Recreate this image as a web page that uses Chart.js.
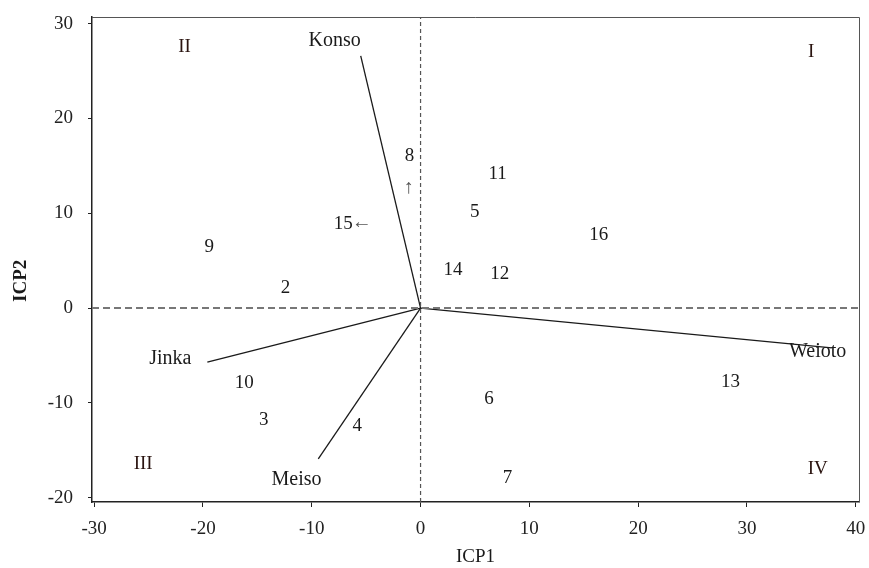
<!DOCTYPE html>
<html>
<head>
<meta charset="utf-8">
<script src="https://cdn.jsdelivr.net/npm/chart.js@4.4.0/dist/chart.umd.min.js"></script>
<style>
  html, body { margin: 0; padding: 0; background: #fff; }
  #wrap { width: 869px; height: 568px; }
</style>
</head>
<body>
<div id="wrap"><canvas id="biplot"></canvas></div>
<script>
// genotype scores on the first two interaction principal components
const genotypes = ['2', '3', '4', '5', '6', '7', '8', '9', '10', '11', '12', '13', '14', '15', '16'];
const genoICP1 = [-12.6, -14.6, -6.0, 4.8, 6.1, 7.8, -1.2, -19.6, -16.4, 6.9, 7.1, 28.3, 2.8, -7.3, 16.2];
const genoICP2 = [2.3, -11.6, -12.2, 10.3, -9.4, -17.7, 16.3, 6.7, -7.7, 14.3, 3.8, -7.6, 4.2, 9.1, 7.9];

// environment vectors drawn from the origin
const environments = ['Konso', 'Jinka', 'Meiso', 'Weioto'];
const envICP1 = [-5.5, -19.6, -9.4, 37.8];
const envICP2 = [26.6, -5.7, -15.9, -4.2];
const envLabelICP1 = [-7.9, -23.0, -11.4, 36.5];
const envLabelICP2 = [28.2, -5.3, -18.1, -4.6];

// quadrant numbering
const quadrants = ['I', 'II', 'III', 'IV'];
const quadICP1 = [35.9, -21.7, -25.5, 36.5];
const quadICP2 = [27.0, 27.5, -16.4, -17.0];

// pointer marks next to genotypes 8 and 15
const pointers = ['\u2191', '\u2190'];
const pointerICP1 = [-1.1, -5.4];
const pointerICP2 = [12.7, 9.0];

const xTicks = [-30, -20, -10, 0, 10, 20, 30, 40];
const yTicks = [-20, -10, 0, 10, 20, 30];
const xRange = [-30.2, 40.3];
const yRange = [-20.45, 30.7];

const SERIF = "'Liberation Serif', 'Times New Roman', serif";

const toPoints = (xs, ys) => xs.map((x, i) => ({ x: x, y: ys[i] }));

const textSet = (texts, xs, ys, color, size, shift) => ({
  label: 'text',
  data: toPoints(xs, ys),
  texts: texts,
  textColor: color,
  textSize: size || 19,
  textShift: shift || [0, 0],
  pointRadius: 0,
  showLine: false
});

const datasets = [
  {
    label: 'zero-h',
    data: [{ x: xRange[0], y: 0 }, { x: xRange[1], y: 0 }],
    showLine: true, borderColor: '#777', borderWidth: 2, borderDash: [7, 4], pointRadius: 0
  },
  {
    label: 'zero-v',
    data: [{ x: 0, y: yRange[0] }, { x: 0, y: yRange[1] }],
    showLine: true, borderColor: '#555', borderWidth: 1.2, borderDash: [4, 3], pointRadius: 0
  }
];

environments.forEach((env, i) => {
  datasets.push({
    label: env,
    data: [{ x: 0, y: 0 }, { x: envICP1[i], y: envICP2[i] }],
    showLine: true, borderColor: '#1a1a1a', borderWidth: 1.3, pointRadius: 0
  });
});

datasets.push(textSet(genotypes, genoICP1, genoICP2, '#1a1a1a', 19, [2, 2]));
datasets.push(textSet(environments, envLabelICP1, envLabelICP2, '#1a1a1a', 20));
datasets.push(textSet(quadrants, quadICP1, quadICP2, '#2a1410'));
datasets.push(textSet(pointers, pointerICP1, pointerICP2, '#555', 20));

// writes the text of each text dataset at its point
const textMarks = {
  id: 'textMarks',
  afterDatasetsDraw(chart) {
    const ctx = chart.ctx;
    ctx.save();
    ctx.textAlign = 'center';
    ctx.textBaseline = 'middle';
    chart.data.datasets.forEach((ds, di) => {
      if (!ds.texts) return;
      const meta = chart.getDatasetMeta(di);
      const [dx, dy] = ds.textShift;
      ctx.font = ds.textSize + 'px ' + SERIF;
      ctx.fillStyle = ds.textColor;
      meta.data.forEach((pt, j) => ctx.fillText(ds.texts[j], pt.x + dx, pt.y + dy));
    });
    ctx.restore();
  }
};

// thin grey top and right edges of the frame
const frame = {
  id: 'frame',
  beforeDatasetsDraw(chart) {
    const { left, right, top, bottom } = chart.chartArea;
    const ctx = chart.ctx;
    ctx.save();
    ctx.strokeStyle = '#555';
    ctx.lineWidth = 1;
    ctx.beginPath();
    ctx.moveTo(left, top + 0.5);
    ctx.lineTo(right + 0.5, top + 0.5);
    ctx.lineTo(right + 0.5, bottom);
    ctx.stroke();
    ctx.restore();
  }
};

new Chart(document.getElementById('biplot'), {
  type: 'scatter',
  data: { datasets: datasets },
  plugins: [frame, textMarks],
  options: {
    responsive: true,
    maintainAspectRatio: false,
    animation: false,
    layout: { autoPadding: false, padding: { top: 17, right: 10, left: 0, bottom: 0 } },
    plugins: {
      legend: { display: false },
      tooltip: { enabled: false }
    },
    scales: {
      x: {
        type: 'linear',
        min: xRange[0],
        max: xRange[1],
        afterBuildTicks: s => { s.ticks = xTicks.map(v => ({ value: v })); },
        afterFit: s => { s.height = 66; s.paddingLeft = 0; s.paddingRight = 0; },
        grid: { drawOnChartArea: false, tickLength: 5, color: '#222' },
        border: { color: '#222', width: 1.5 },
        ticks: { color: '#222', padding: 11, maxRotation: 0, font: { family: SERIF, size: 19 } },
        title: {
          display: true, text: 'ICP1', color: '#1a1a1a',
          padding: { top: 0, bottom: 0 },
          font: { family: SERIF, size: 19 }
        }
      },
      y: {
        type: 'linear',
        min: yRange[0],
        max: yRange[1],
        afterBuildTicks: s => { s.ticks = yTicks.map(v => ({ value: v })); },
        afterFit: s => { s.width = 92; s.paddingTop = 0; s.paddingBottom = 0; },
        grid: { drawOnChartArea: false, tickLength: 4, color: '#222' },
        border: { color: '#222', width: 1.5 },
        ticks: { color: '#222', padding: 15, font: { family: SERIF, size: 19 } },
        title: {
          // trailing spaces push the word a little below the middle of the axis
          display: true, text: 'ICP2         ', color: '#1a1a1a',
          padding: { top: 10, bottom: 0 },
          font: { family: SERIF, size: 19, weight: 'bold' }
        }
      }
    }
  }
});
</script>
</body>
</html>
